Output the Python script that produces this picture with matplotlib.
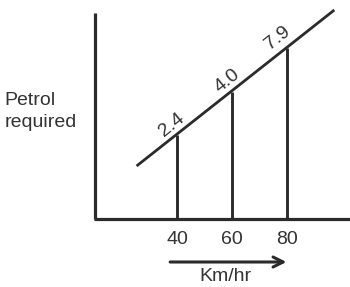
import matplotlib.pyplot as plt

plt.rcParams['font.family'] = ['Liberation Sans', 'DejaVu Sans']

# speeds (km/hr) with vertical drop lines and the petrol labels on the line
speeds = [40, 60, 80]
drop_heights = [84, 127, 171]
petrol_labels = ['2.4', '4.0', '7.9']
label_offsets = [(-5, 10), (-5, 11), (-9, 10)]

# straight "petrol required" line (ends)
line_x = [25.3, 97.2]
line_y = [53, 209]

# axes frame
yaxis_x = 10.2
yaxis_top = 206
xaxis_end = 104

arrow_x = [37.5, 79.8]
arrow_y = -43

ink = '#2b2b2b'
text_col = '#333333'
fs = 14

fig = plt.figure(figsize=(3.5, 2.87), dpi=100)
ax = fig.add_axes([0, 0, 1, 1])
ax.set_xlim(-24.36, 102.9)
ax.set_ylim(-68, 219)
ax.axis('off')

# axes
ax.plot([yaxis_x, yaxis_x], [0, yaxis_top], color=ink, lw=2.3,
        solid_capstyle='butt')
ax.plot([yaxis_x - 0.5, xaxis_end], [0, 0], color=ink, lw=2.3,
        solid_capstyle='butt')

# diagonal line
ax.plot(line_x, line_y, color=ink, lw=2.0, solid_capstyle='butt')

# drop lines
for x, h in zip(speeds, drop_heights):
    ax.plot([x, x], [0, h], color=ink, lw=2.1, solid_capstyle='butt')

# labels along the line
for x, h, lab, off in zip(speeds, drop_heights, petrol_labels, label_offsets):
    ax.annotate(lab, (x, h), xytext=off, textcoords='offset pixels',
                rotation=39, ha='center', va='center', fontsize=fs,
                color=text_col, rotation_mode='anchor')

# tick labels
for x in speeds:
    ax.text(x, -20, str(x), ha='center', va='center', fontsize=fs,
            color=text_col)

# axis titles
ax.text(-22.6, 114, 'Petrol', ha='left', va='baseline', fontsize=fs,
        color=text_col)
ax.text(-22.6, 92, 'required', ha='left', va='baseline', fontsize=fs,
        color=text_col)

# arrow and unit
ax.annotate('', xy=(arrow_x[1], arrow_y), xytext=(arrow_x[0], arrow_y),
            arrowprops=dict(arrowstyle='->', color=ink, lw=2.2,
                            mutation_scale=18, shrinkA=0, shrinkB=0))
ax.text(57.5, -66, 'Km/hr', ha='center', va='bottom', fontsize=fs,
        color=text_col)

fig.savefig('out.png', dpi=100)
